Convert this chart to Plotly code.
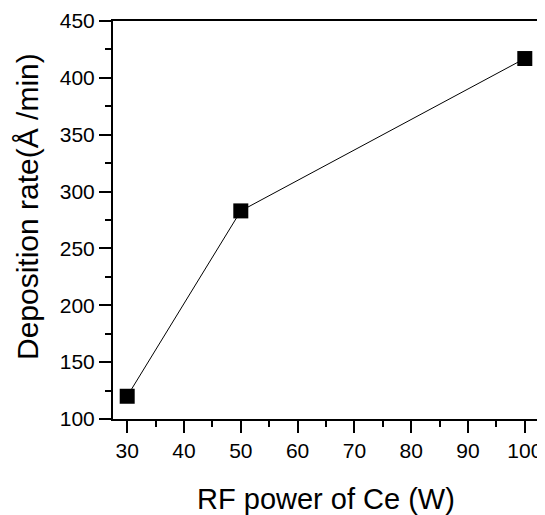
import plotly.graph_objects as go

rf_power = [30, 50, 100]
dep_rate = [120, 283, 417]

fig = go.Figure()
fig.add_trace(go.Scatter(
    x=rf_power, y=dep_rate, mode="lines+markers",
    line=dict(color="black", width=1),
    marker=dict(symbol="square", size=15, color="black"),
    showlegend=False, cliponaxis=False,
))

FONT = "Liberation Sans, Arial"
axis_common = dict(
    showline=True, linecolor="black", linewidth=2, mirror=True,
    ticks="outside", ticklen=12, tickwidth=2, tickcolor="black",
    showgrid=False, zeroline=False, automargin=False,
    tickfont=dict(family=FONT, size=21, color="black"),
)

fig.update_xaxes(
    range=[27.5, 102.5], tick0=30, dtick=10,
    minor=dict(dtick=5, ticklen=6, tickwidth=1.5, tickcolor="black", ticks="outside", showgrid=False),
    title=dict(text="RF power of Ce (W)", font=dict(family=FONT, size=29, color="black"), standoff=32),
    **axis_common,
)
fig.update_yaxes(
    range=[100, 450], tick0=100, dtick=50,
    minor=dict(dtick=25, ticklen=6, tickwidth=1.5, tickcolor="black", ticks="outside", showgrid=False),
    **axis_common,
)

# y-axis title placed as an annotation (sits above the axis centre in the reference)
fig.add_annotation(
    text="Deposition rate(Å /min)", textangle=-90,
    xref="paper", yref="paper", x=-0.202, y=0.535,
    xanchor="center", yanchor="middle", showarrow=False,
    font=dict(family=FONT, size=30, color="black"),
)

# page has an 8px body margin; figure origin sits at (8, 8)
fig.update_layout(
    width=537, height=507,
    margin=dict(l=105, r=6, t=13, b=96),
    plot_bgcolor="white", paper_bgcolor="white",
)

fig.write_html("out.html")
